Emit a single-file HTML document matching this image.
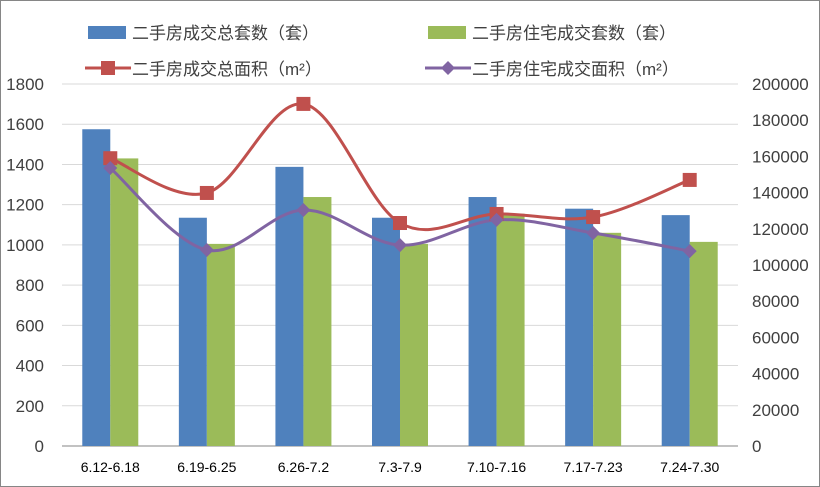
<!DOCTYPE html>
<html><head><meta charset="utf-8">
<style>
html,body{margin:0;padding:0;background:#fff;}
svg{display:block;font-family:"Liberation Sans","Noto Sans CJK SC",sans-serif;}
</style></head>
<body>
<svg id="chart" width="820" height="487" viewBox="0 0 820 487">
<rect x="0.5" y="0.5" width="819" height="486" fill="#fff" stroke="#868686"/>
<g id="grid"></g>
<g id="bars"></g>
<g id="lines"></g>
<g id="axes"></g>
<g font-size="17" fill="#404040">
  <rect x="88" y="26" width="38" height="13" fill="#4f81bd"/>
  <text x="132" y="39">二手房成交总套数（套）</text>
  <rect x="428" y="26" width="38" height="13" fill="#9bbb59"/>
  <text x="472" y="39">二手房住宅成交套数（套）</text>
  <line x1="85" y1="68" x2="131" y2="68" stroke="#c0504d" stroke-width="3"/>
  <rect x="101" y="61" width="14" height="14" fill="#c0504d"/>
  <text x="132" y="75">二手房成交总面积（m²）</text>
  <line x1="425" y1="68" x2="471" y2="68" stroke="#8064a2" stroke-width="3"/>
  <path d="M448 61 L455 68 L448 75 L441 68 Z" fill="#8064a2"/>
  <text x="472" y="75">二手房住宅成交面积（m²）</text>
</g>
</svg>
<script>
const categories=["6.12-6.18","6.19-6.25","6.26-7.2","7.3-7.9","7.10-7.16","7.17-7.23","7.24-7.30"];
const totalCount=[1575,1135,1388,1135,1238,1180,1148];
const resCount=[1430,1005,1238,1005,1155,1060,1015];
const totalArea=[159000,139800,189000,123200,128200,126500,147000];
const resArea=[153600,108300,130400,111000,124900,117700,107700];
const leftTicks=[0,200,400,600,800,1000,1200,1400,1600,1800];
const rightTicks=[0,20000,40000,60000,80000,100000,120000,140000,160000,180000,200000];

const NS="http://www.w3.org/2000/svg";
const X0=62,X1=738,Y0=446,Y1=84;
const band=(X1-X0)/categories.length;
const xc=i=>X0+band*(i+0.5);
const yL=v=>Y0-(v/1800)*(Y0-Y1);
const yR=v=>Y0-(v/200000)*(Y0-Y1);
function mk(tag,attrs,parent){const e=document.createElementNS(NS,tag);for(const k in attrs)e.setAttribute(k,attrs[k]);parent.appendChild(e);return e;}
const grid=document.getElementById('grid'),bars=document.getElementById('bars'),lines=document.getElementById('lines'),axes=document.getElementById('axes');

leftTicks.forEach(t=>{
  const y=yL(t);
  const l=mk('line',{x1:X0,x2:X1,y1:y,y2:y,stroke:t===0?'#868686':'#d9d9d9','stroke-width':1},grid);
  
  
  const tx=mk('text',{x:44,y:y+6,'text-anchor':'end','font-size':17,fill:'#404040'},axes);
  tx.textContent=t;
  
  
});
rightTicks.forEach(t=>{
  const tx=mk('text',{x:752,y:yR(t)+6,'font-size':17,fill:'#404040'},axes);
  tx.textContent=t;
  
  
});
categories.forEach((c,i)=>{
  const tx=mk('text',{x:xc(i),y:472,'text-anchor':'middle','font-size':14,fill:'#000'},axes);
  tx.textContent=c;
  
  
  const w=28;
  const b1=mk('rect',{x:xc(i)-w,y:yL(totalCount[i]),width:w,height:Y0-yL(totalCount[i]),fill:'#4f81bd'},bars);
  
  
  const b2=mk('rect',{x:xc(i),y:yL(resCount[i]),width:w,height:Y0-yL(resCount[i]),fill:'#9bbb59'},bars);
  
  
});
function smooth(pts){
  let d=`M${pts[0][0]},${pts[0][1]}`;
  for(let i=0;i<pts.length-1;i++){
    const p0=pts[i-1]||pts[i],p1=pts[i],p2=pts[i+1],p3=pts[i+2]||p2;
    const t=0.17*3/3;
    const c1=[p1[0]+(p2[0]-p0[0])*t,p1[1]+(p2[1]-p0[1])*t];
    const c2=[p2[0]-(p3[0]-p1[0])*t,p2[1]-(p3[1]-p1[1])*t];
    d+=` C${c1[0]},${c1[1]} ${c2[0]},${c2[1]} ${p2[0]},${p2[1]}`;
  }
  return d;
}
const redPts=totalArea.map((v,i)=>[xc(i),yR(v)]);
const purPts=resArea.map((v,i)=>[xc(i),yR(v)]);
const rl=mk('path',{d:smooth(redPts),fill:'none',stroke:'#c0504d','stroke-width':3},lines);


const pl=mk('path',{d:smooth(purPts),fill:'none',stroke:'#8064a2','stroke-width':3},lines);


redPts.forEach(p=>{
  const m=mk('rect',{x:p[0]-7,y:p[1]-7,width:14,height:14,fill:'#c0504d'},lines);
  
  
});
purPts.forEach(p=>{
  const m=mk('path',{d:`M${p[0]},${p[1]-7} L${p[0]+7},${p[1]} L${p[0]},${p[1]+7} L${p[0]-7},${p[1]} Z`,fill:'#8064a2'},lines);
  
  
});
</script>
</body></html>
